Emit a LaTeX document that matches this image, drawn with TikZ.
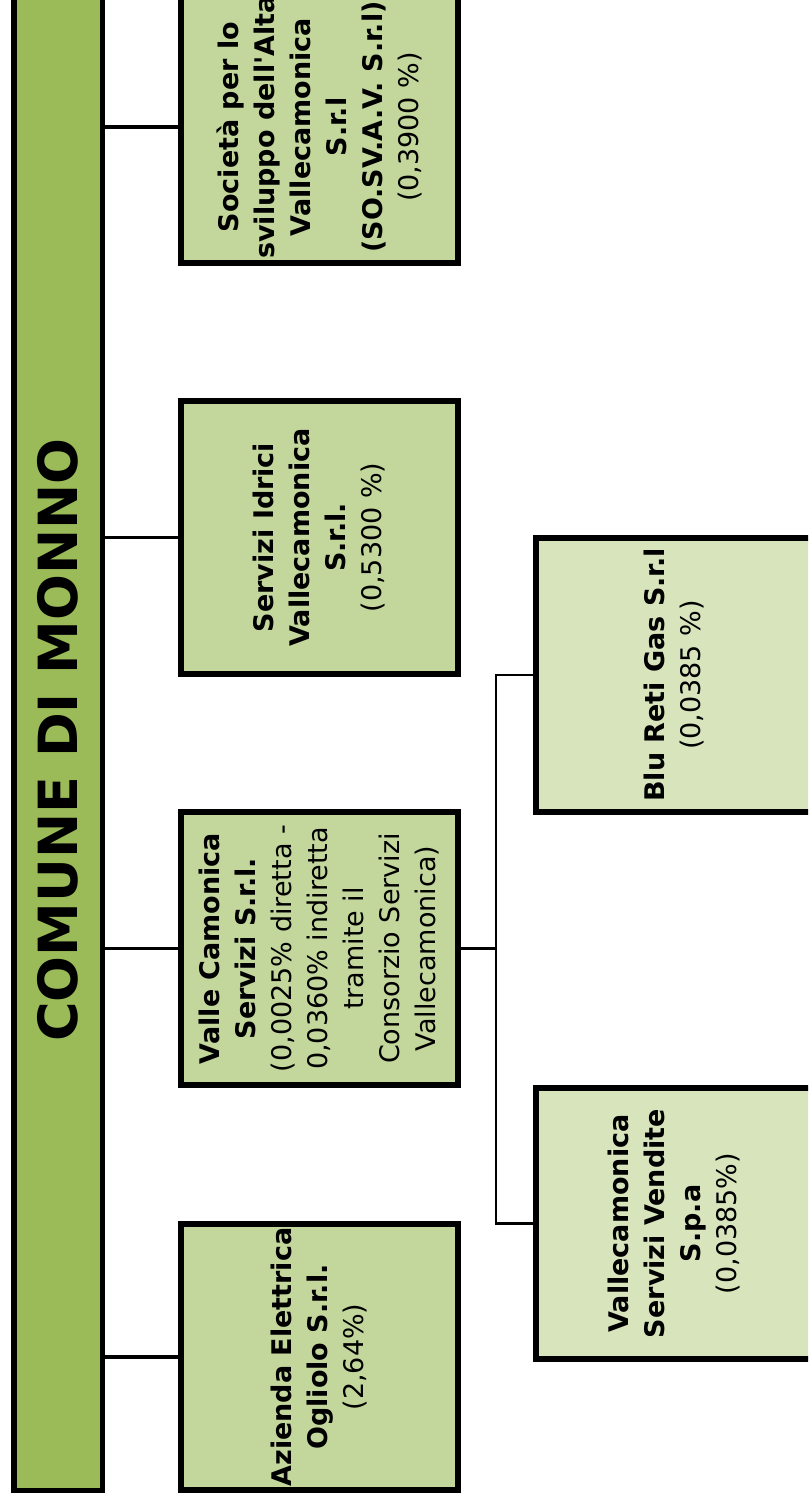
\documentclass[tikz,border=0pt]{standalone}
\usepackage{fontspec}
\setmainfont{DejaVu Sans}
\definecolor{barfill}{HTML}{9BBB59}
\definecolor{boxfill}{HTML}{C3D69B}
\definecolor{subfill}{HTML}{D7E4BC}
\begin{document}
\begin{tikzpicture}[x=1pt,y=-1pt,
  mainbar/.style={draw, line width=5.5pt, fill=barfill, minimum width=88.5pt, minimum height=1500.5pt, inner sep=0pt, outer sep=0pt},
  orgbox/.style={draw, line width=6pt, fill=boxfill, minimum width=277pt, minimum height=273pt, inner sep=0pt, outer sep=0pt},
  subbox/.style={orgbox, fill=subfill},
  boxtext/.style={rotate=90, align=center, inner sep=0pt, font=\fontsize{27pt}{36pt}\selectfont},
  titletext/.style={rotate=90, inner sep=0pt, font=\fontsize{54pt}{60pt}\selectfont\bfseries},
  link/.style={line width=3.5pt},
  sublink/.style={line width=2.5pt}]
\useasboundingbox (0,0) rectangle (808,1503);
\clip (0,0) rectangle (808,1503);

\node[mainbar] (main) at (58,740) {};
\node[titletext] (title) at (main.center) {COMUNE DI MONNO};

\node[orgbox] (b1) at (319.5,127) {};
\node[orgbox] (b2) at (319.5,537.5) {};
\node[orgbox] (b3) at (319.5,948.5) {};
\node[orgbox, minimum height=266pt] (b4) at (319.5,1357) {};
\node[subbox, minimum height=274pt] (b5) at (674.5,675) {};
\node[subbox, minimum height=271pt] (b6) at (674.5,1223.5) {};

\node[boxtext] (t1) at (b1.center) {\textbf{Società per lo}\\\textbf{sviluppo dell\textquotesingle Alta}\\\textbf{Vallecamonica}\\\textbf{S.r.l}\\\textbf{(SO.SV.A.V. S.r.l)}\\(0,3900 \%)};
\node[boxtext] (t2) at (b2.center) {\textbf{Servizi Idrici}\\\textbf{Vallecamonica}\\\textbf{S.r.l.}\\(0,5300 \%)};
\node[boxtext] (t3) at (b3.center) {\textbf{Valle Camonica}\\\textbf{Servizi S.r.l.}\\(0,0025\% diretta -\\0,0360\% indiretta\\tramite il\\Consorzio Servizi\\Vallecamonica)};
\node[boxtext] (t4) at (b4.center) {\textbf{Azienda Elettrica}\\\textbf{Ogliolo S.r.l.}\\(2,64\%)};
\node[boxtext] (t5) at (b5.center) {\textbf{Blu Reti Gas S.r.l}\\(0,0385 \%)};
\node[boxtext] (t6) at (b6.center) {\textbf{Vallecamonica}\\\textbf{Servizi Vendite}\\\textbf{S.p.a}\\(0,0385\%)};

\draw[link] (main.east |- b1.west) -- (b1.west);
\draw[link] (main.east |- b2.west) -- (b2.west);
\draw[link] (main.east |- b3.west) -- (b3.west);
\draw[link] (main.east |- b4.west) -- (b4.west);

\coordinate (bus) at (496,948.5);
\draw[sublink] (b3.east) -- (bus);
\draw[sublink] (b5.west) -| (bus) |- (b6.west);
\end{tikzpicture}
\end{document}
